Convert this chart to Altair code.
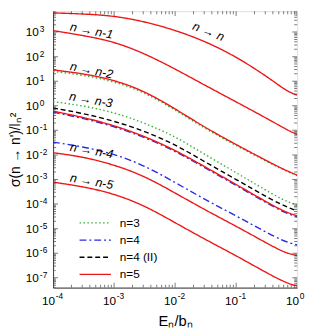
import altair as alt
import pandas as pd

FONT = "Liberation Sans"

# ---- data (x = E_n/b_n, values = log10 of sigma/l_n^2) ----
E_OVER_B = [1e-4, 3.16e-4, 1e-3, 3.16e-3, 1e-2, 3.16e-2, 1e-1, 3.16e-1, 5.62e-1, 7.94e-1, 1.0]

N5_N_N = [3.78, 3.74, 3.66, 3.43, 3.08, 2.62, 2.00, 1.20, 0.74, 0.52, 0.43]
N5_N_N1 = [3.06, 2.86, 2.61, 2.13, 1.50, 0.82, 0.16, -0.51, -0.86, -1.06, -1.16]
N5_N_N2 = [1.46, 1.31, 1.05, 0.60, -0.12, -0.90, -1.58, -2.24, -2.55, -2.72, -2.82]
N5_N_N3 = [-0.22, -0.47, -0.80, -1.24, -1.80, -2.50, -3.20, -3.92, -4.25, -4.40, -4.48]
N5_N_N4 = [-1.91, -2.08, -2.40, -2.86, -3.55, -4.25, -4.90, -5.59, -5.92, -6.04, -6.10]
N5_N_N5 = [-3.11, -3.29, -3.58, -4.06, -4.76, -5.45, -6.10, -6.80, -7.12, -7.27, -7.33]

N3_N_N2 = [1.40, 1.25, 0.99, 0.55, -0.17, -0.94, -1.62, -2.27, -2.57, -2.74, -2.84]
N3_N_N3 = [0.17, 0.00, -0.27, -0.70, -1.24, -2.00, -2.72, -3.46, -3.80, -3.96, -4.03]

N4_N_N3 = [-0.26, -0.51, -0.84, -1.28, -1.84, -2.54, -3.24, -3.96, -4.29, -4.44, -4.52]
N4_N_N4 = [-1.48, -1.67, -1.96, -2.43, -3.12, -3.83, -4.48, -5.16, -5.47, -5.60, -5.66]

N4II_N_N3 = [-0.09, -0.31, -0.62, -1.03, -1.57, -2.30, -3.00, -3.71, -4.03, -4.19, -4.28]

SERIES = ["n=3", "n=4", "n=4 (II)", "n=5"]
COLORS = ["#33b233", "#2a2ae8", "#000000", "#ee1515"]
DASHES = [[1.5, 2.5], [7, 3, 2, 3], [5, 3], [1, 0]]

CURVES = [
    ("n=3", "n-2", N3_N_N2), ("n=3", "n-3", N3_N_N3),
    ("n=4", "n-3", N4_N_N3), ("n=4", "n-4", N4_N_N4),
    ("n=4 (II)", "n-3", N4II_N_N3),
    ("n=5", "n", N5_N_N), ("n=5", "n-1", N5_N_N1), ("n=5", "n-2", N5_N_N2),
    ("n=5", "n-3", N5_N_N3), ("n=5", "n-4", N5_N_N4), ("n=5", "n-5", N5_N_N5),
]

LABEL_TEXT = ["n → n", "n → n-1", "n → n-2", "n → n-3", "n → n-4", "n → n-5"]
LABEL_E = [3.52e-2, 4.27e-4, 4.27e-4, 4.17e-4, 4.27e-4, 4.27e-4]
LABEL_SIGMA = [1050, 1120, 27.5, 1.74, 1.48e-2, 8.3e-4]
LABEL_ANGLE = [21, 11, 11, 10, 10, 10]

X_DECADES = [-4, -3, -2, -1, 0]
Y_DECADES = [-7, -6, -5, -4, -3, -2, -1, 0, 1, 2, 3]

X_MIN, X_MAX = 1e-4, 1.0
Y_MIN, Y_MAX = 10 ** -7.4, 10 ** 3.85

# ---- tables ----
rows = []
for s, t, vals in CURVES:
    for e, lv in zip(E_OVER_B, vals):
        rows.append({"series": s, "curve": s + t, "E": e, "sigma": 10 ** lv})
df = pd.DataFrame(rows)

XS = alt.Scale(type="log", domain=[X_MIN, X_MAX], nice=False)
YS = alt.Scale(type="log", domain=[Y_MIN, Y_MAX], nice=False)

X_AXIS = alt.Axis(
    title="Eₙ/bₙ", labels=False, ticks=False, grid=False,
    domain=True, domainColor="#333", domainWidth=1,
    titlePadding=27, titleFontSize=15, titleFontWeight="normal", titleFont=FONT,
    titleColor="#000")
Y_AXIS = alt.Axis(
    title="σ(n → n')/lₙ²", labels=False, ticks=False, grid=False,
    domain=True, domainColor="#333", domainWidth=1,
    titlePadding=31, titleFontSize=14, titleFontWeight="normal", titleFont=FONT,
    titleColor="#000")


def xe(field):
    return alt.X(field, type="quantitative", scale=XS, axis=X_AXIS)


def ye(field):
    return alt.Y(field, type="quantitative", scale=YS, axis=Y_AXIS)


legend = alt.Legend(
    title=None, orient="none", legendX=34, legendY=207,
    symbolType="M-2,0H2", symbolSize=256, symbolStrokeWidth=1.4,
    labelFontSize=12, labelFont=FONT, labelOffset=16, labelColor="#000",
    rowPadding=2.5, padding=0,
)

lines = alt.Chart(df).mark_line(clip=True, strokeWidth=1.4, interpolate="basis").encode(
    x=xe("E"),
    y=ye("sigma"),
    color=alt.Color("series:N", scale=alt.Scale(domain=SERIES, range=COLORS), legend=legend),
    strokeDash=alt.StrokeDash("series:N", scale=alt.Scale(domain=SERIES, range=DASHES), legend=legend),
    detail="curve:N",
)

# ticks (inward, on all four sides)
ytick_rows = []
for k in range(-8, 4):
    for m in range(1, 10):
        v = m * 10 ** k
        if Y_MIN <= v <= Y_MAX:
            ytick_rows.append({"v": v, "len": 10 if m == 1 else 6})
xtick_rows = []
for k in range(-4, 1):
    for m in range(1, 10):
        v = m * 10 ** k
        if X_MIN <= v * 1.0001 and v <= X_MAX * 1.0001:
            xtick_rows.append({"v": v, "len": 10 if m == 1 else 6})
ytk = pd.DataFrame(ytick_rows)
ytk["xl"] = X_MIN
ytk["xr"] = X_MAX
xtk = pd.DataFrame(xtick_rows)
xtk["yb"] = Y_MIN
xtk["yt"] = Y_MAX

TICK_COLOR = "#444"
tick_layers = [
    alt.Chart(ytk).mark_tick(orient="horizontal", thickness=1, clip=True, color=TICK_COLOR).encode(
        x=xe("xl"), y=ye("v"), size=alt.Size("len:Q", scale=None)),
    alt.Chart(ytk).mark_tick(orient="horizontal", thickness=1, clip=True, color=TICK_COLOR).encode(
        x=xe("xr"), y=ye("v"), size=alt.Size("len:Q", scale=None)),
    alt.Chart(xtk).mark_tick(orient="vertical", thickness=1, clip=True, color=TICK_COLOR).encode(
        x=xe("v"), y=ye("yb"), size=alt.Size("len:Q", scale=None)),
    alt.Chart(xtk).mark_tick(orient="vertical", thickness=1, clip=True, color=TICK_COLOR).encode(
        x=xe("v"), y=ye("yt"), size=alt.Size("len:Q", scale=None)),
]

# tick labels as 10 with raised exponent
ylab = pd.DataFrame({"E": [X_MIN] * len(Y_DECADES),
                     "s": [10.0 ** k for k in Y_DECADES],
                     "base": ["10"] * len(Y_DECADES),
                     "exp": [str(k) for k in Y_DECADES]})
xlab = pd.DataFrame({"E": [10.0 ** k for k in X_DECADES],
                     "s": [Y_MIN] * len(X_DECADES),
                     "base": ["10"] * len(X_DECADES),
                     "exp": [str(k) for k in X_DECADES]})

label_layers = [
    alt.Chart(ylab).mark_text(align="right", baseline="alphabetic", dx=-14.5, dy=4,
                              fontSize=12, font=FONT, color="#000").encode(
        x=xe("E"), y=ye("s"), text="base:N"),
    alt.Chart(ylab).mark_text(align="left", baseline="alphabetic", dx=-13.5, dy=0,
                              fontSize=8.5, font=FONT, color="#000").encode(
        x=xe("E"), y=ye("s"), text="exp:N"),
    alt.Chart(xlab).mark_text(align="right", baseline="alphabetic", dx=2, dy=17.3,
                              fontSize=12, font=FONT, color="#000").encode(
        x=xe("E"), y=ye("s"), text="base:N"),
    alt.Chart(xlab).mark_text(align="left", baseline="alphabetic", dx=2.7, dy=11.7,
                              fontSize=8.5, font=FONT, color="#000").encode(
        x=xe("E"), y=ye("s"), text="exp:N"),
]

# curve annotations
ann_df = pd.DataFrame({"t": LABEL_TEXT, "E": LABEL_E, "s": LABEL_SIGMA})
ann_layers = []
for i, ang in enumerate(LABEL_ANGLE):
    ann_layers.append(
        alt.Chart(ann_df.iloc[[i]]).mark_text(
            align="center", baseline="middle", angle=ang, fontSize=12.5,
            font=FONT, fontStyle="italic", color="#000").encode(
            x=xe("E"), y=ye("s"), text="t:N"))

chart = alt.layer(lines, *tick_layers, *label_layers, *ann_layers).properties(
    width=249, height=282,
    autosize=alt.AutoSizeParams(type="none"),
    padding={"left": 46, "top": 0, "right": 8, "bottom": 40},
).configure_view(stroke="#333", strokeWidth=1).configure(background="white")

chart.save("out.html", embed_options={"renderer": "svg", "actions": False})
